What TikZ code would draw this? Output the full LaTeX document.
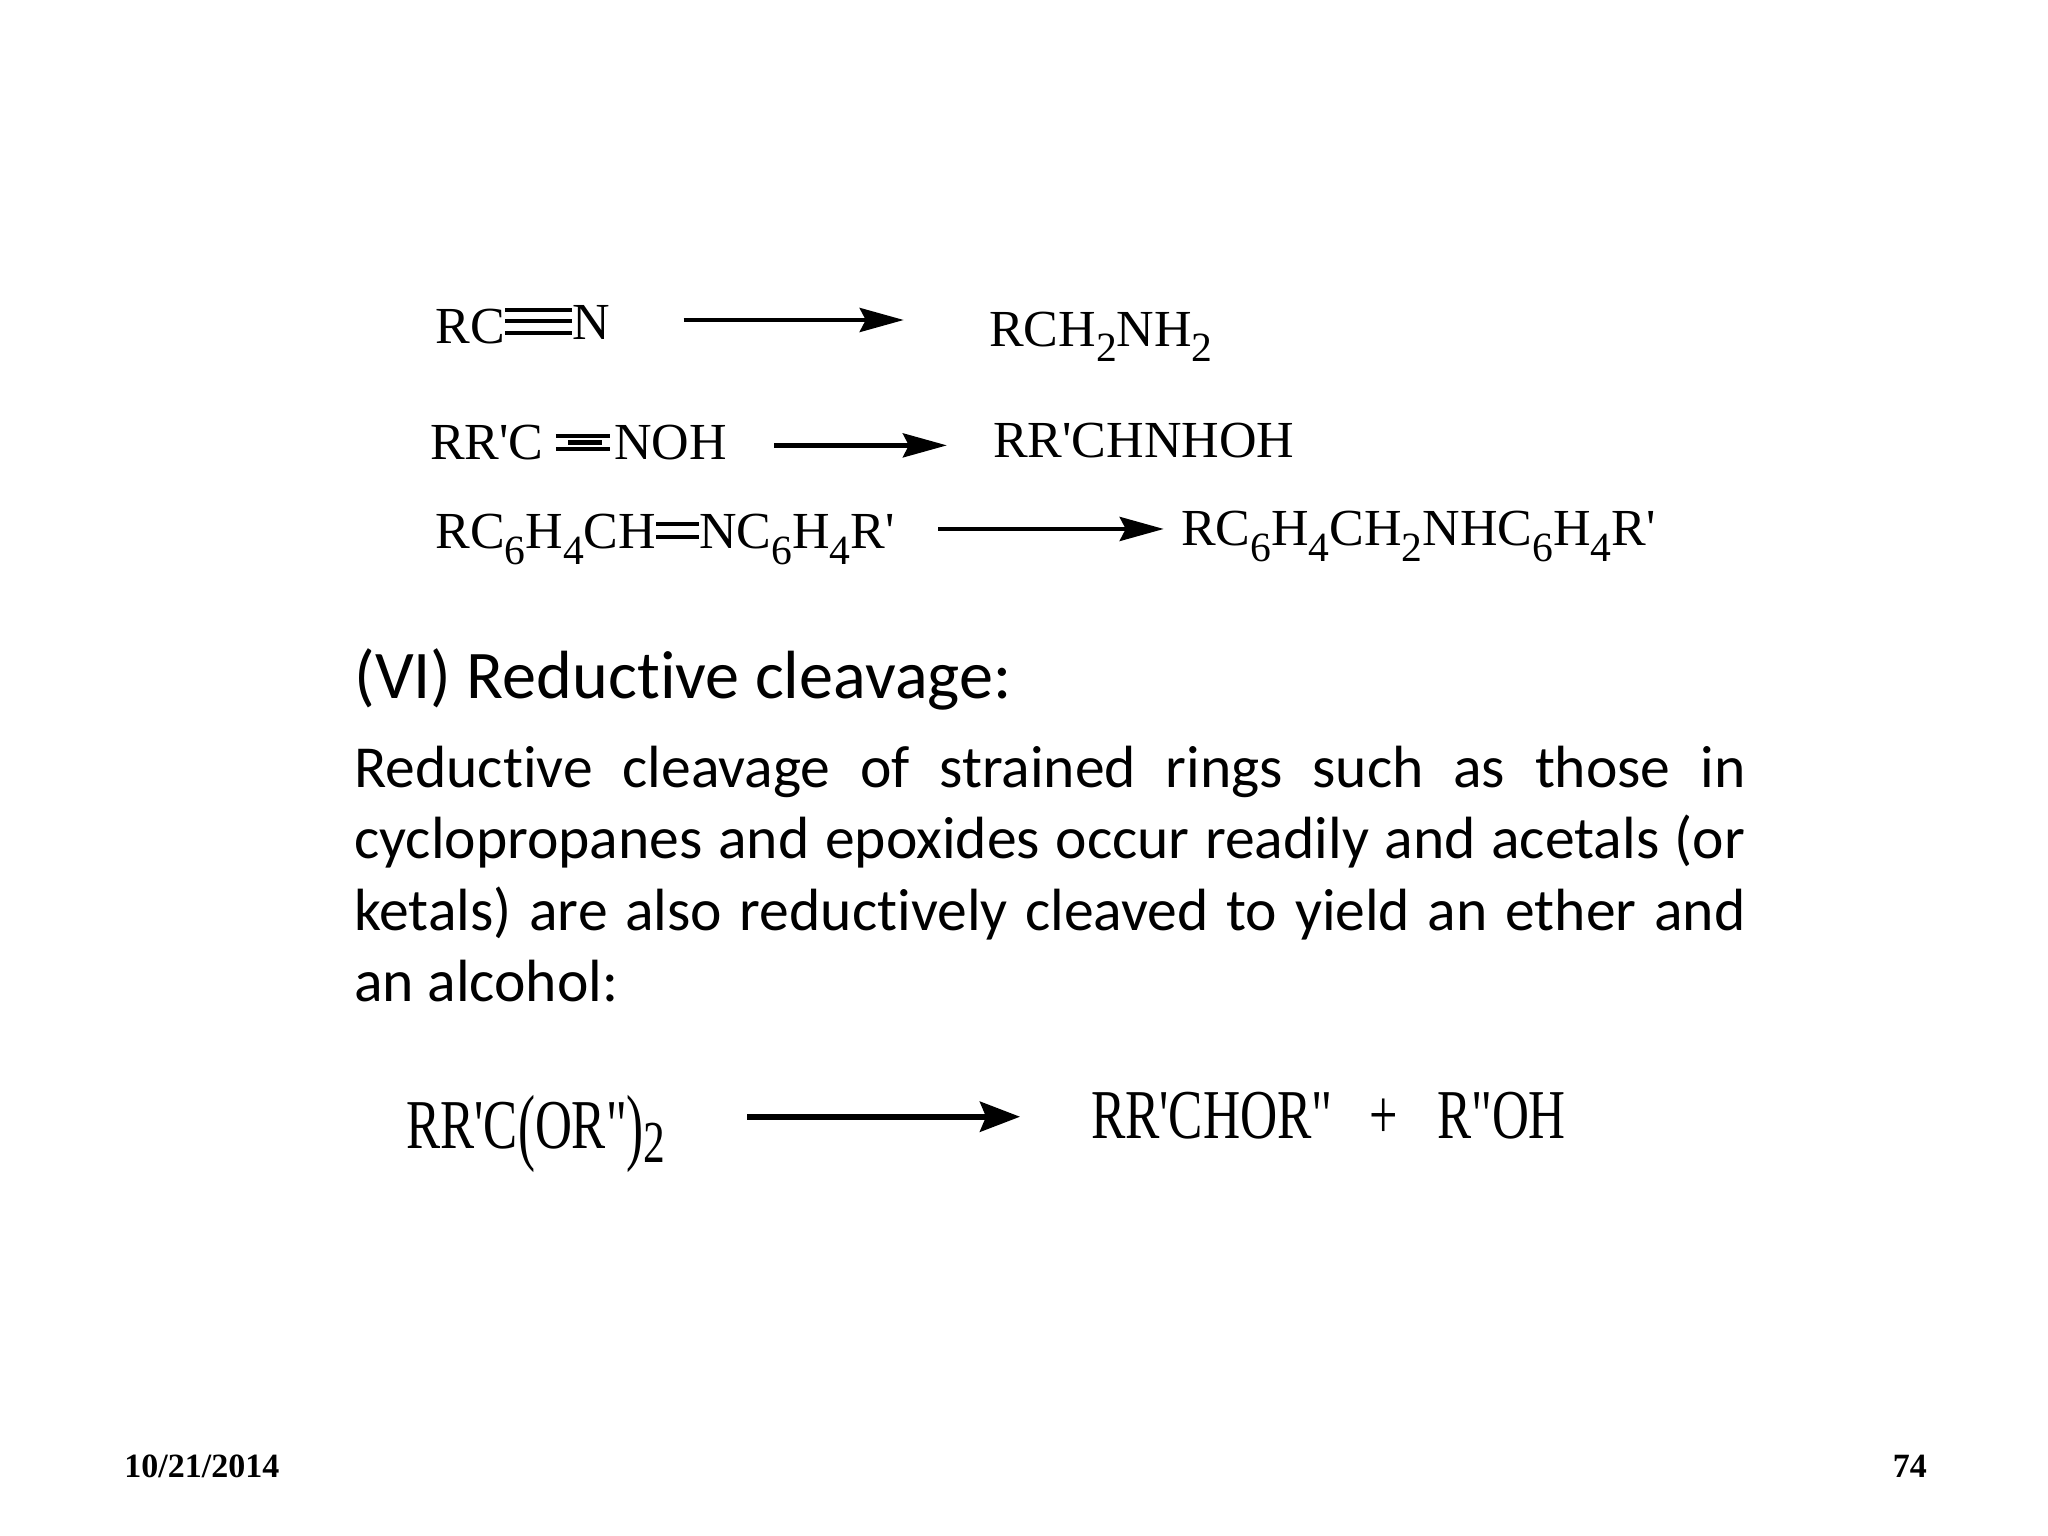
\documentclass[tikz,border=0pt]{standalone}
\usepackage{fontspec}
\usepackage{graphicx}
\setmainfont[Ligatures=NoCommon]{Carlito}
\newfontfamily\chemfont{Liberation Serif}
\usetikzlibrary{arrows.meta,positioning}
\newcommand{\chemsub}[1]{\raisebox{-.3em}{\scalebox{.8}{#1}}}
\newcommand{\tallsub}[1]{\raisebox{-.2em}{\scalebox{.85}{#1}}}
\newcommand{\tallparen}[1]{\raisebox{-.09em}{\scalebox{1}[1.22]{#1}}}
\tikzset{
  chem/.style = {inner sep=0pt, anchor=base west, font=\chemfont\fontsize{26}{30}\selectfont},
  tallchem/.style = {inner sep=0pt, anchor=base west, font=\chemfont\fontsize{35}{40}\selectfont},
  footer/.style = {inner sep=0pt, anchor=base west, font=\chemfont\bfseries\fontsize{17}{20}\selectfont},
  bond/.style = {draw, line width=2pt},
  tedge/.style = {draw, line width=2.2pt, -{Stealth[length=22pt,width=12pt,inset=3pt]}},
  thickedge/.style = {draw, line width=2.8pt, -{Stealth[length=20pt,width=15pt,inset=3pt]}}
}
\begin{document}
\begin{tikzpicture}[x=0.6531pt, y=-0.6531pt]
\useasboundingbox[fill=white] (0,0) rectangle (1568,1176);

% reactions =============================

% nodes
\node[chem] (rc1) at (333,263) {RC};
\node[chem] (n1) at (438,260) {N};
\node[chem] (p1) at (757,265) {RCH\chemsub{2}NH\chemsub{2}};

\node[chem] (rc2) at (329,352) {RR'C};
\node[chem] (n2) at (470,352) {NOH};
\node[chem] (p2) at (760,350) {RR'CHNHOH};

\node[chem] (rc3) at (333,420) {RC\chemsub{6}H\chemsub{4}CH};
\node[chem] (n3) at (535,420) {NC\chemsub{6}H\chemsub{4}R'};
\node[chem] (p3) at (904,418) {RC\chemsub{6}H\chemsub{4}CH\chemsub{2}NHC\chemsub{6}H\chemsub{4}R'};

\node[tallchem] (rc4) at (311,879) {\scalebox{.73}[1]{RR'C\tallparen{(}OR"\tallparen{)}\tallsub{2}}};
\node[tallchem] (p4) at (835,872) {\scalebox{.735}[1]{RR'CHOR"}};
\node[tallchem] (plus) at (1048,872) {\scalebox{.72}[1]{+}};
\node[tallchem] (q4) at (1100,872) {\scalebox{.73}[1]{R"OH}};

% text
\node[inner sep=0pt, anchor=base west, font=\fontsize{34.1}{40}\selectfont] (title) at (271,535) {(VI) Reductive cleavage:};
\node[inner sep=0pt, anchor=north west, text width=695.6pt, align=justify, font=\fontsize{29.8}{35.7}\selectfont] (body) at (271,571)
  {Reductive cleavage of strained rings such as those in\linebreak cyclopropanes and epoxides occur readily and acetals (or\linebreak ketals) are also reductively cleaved to yield an ether and\linebreak an alcohol:};

\node[footer] (date) at (95,1131) {10/21/2014};
\node[footer] (page) at (1449,1131) {74};

% bonds
\foreach \y in {237,246,255} \path[bond] (rc1.east |- 0,\y) -- (n1.west |- 0,\y);
\foreach \y in {334,344} \path[bond] ([xshift=6pt]rc2.east |- 0,\y) -- ([xshift=-2pt]n2.west |- 0,\y);
\path[bond, line width=2.6pt] ([xshift=12pt]rc2.east |- 0,339) -- ([xshift=-6pt]n2.west |- 0,339);
\foreach \y in {401,411} \path[bond] (rc3.east |- 0,\y) -- (n3.west |- 0,\y);

% edges
\path[tedge, shorten <=36.6pt, shorten >=42.5pt] (n1.east |- 0,245) -- (p1.west |- 0,245);
\path[tedge, shorten <=23.5pt, shorten >=22.9pt] (n2.east |- 0,341) -- (p2.west |- 0,341);
\path[tedge, shorten <=21.6pt, shorten >=8.5pt] (n3.east |- 0,405) -- (p3.west |- 0,405);
\path[thickedge, shorten <=40.5pt, shorten >=35.3pt] (rc4.east |- 0,855) -- (p4.west |- 0,855);
\end{tikzpicture}
\end{document}
